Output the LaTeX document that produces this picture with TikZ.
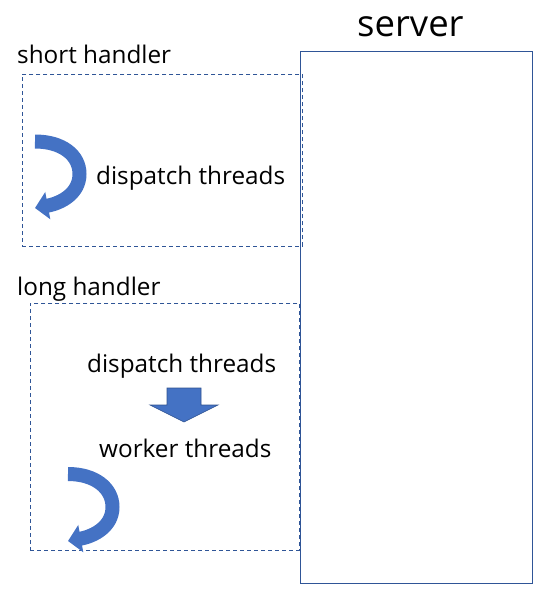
\documentclass[tikz,border=0pt]{standalone}
\usepackage{fontspec}
\setmainfont{Open Sans}
\usetikzlibrary{arrows.meta}
\definecolor{boxblue}{HTML}{2F5597}
\definecolor{fillblue}{HTML}{4472C4}
\definecolor{edgeblue}{HTML}{2F528F}
\tikzset{
  lbl/.style={anchor=base west, inner sep=0pt, font=\fontsize{24.3}{29}\selectfont},
  handlerbox/.style={draw=boxblue, dash pattern=on 4pt off 3pt, line width=0.8pt},
  curvearrow/.style={draw=fillblue, line width=14pt, -{Triangle[width=27pt,length=13pt]}},
}
\begin{document}
\begin{tikzpicture}[x=1pt,y=-1pt]
\useasboundingbox (0,0) rectangle (553,591);
% server
\node[draw=boxblue, line width=0.9pt, minimum width=232pt, minimum height=532pt, inner sep=0pt, anchor=north west] (server) at (300,51) {};
\node[anchor=base west, inner sep=0pt, font=\fontsize{36.5}{44}\selectfont] (servertxt) at (357,36.5) {server};
% short handler
\node[lbl] (shortlbl) at (17,64) {short handler};
\node[handlerbox, minimum width=280pt, minimum height=172pt, inner sep=0pt, anchor=north west] (shortbox) at (22,74) {};
\node[lbl] (disp1) at (96,184) {dispatch threads};
\coordinate (a1s) at (35,141.5);
\coordinate (a1e) at (35,208);
\draw[curvearrow] (a1s) .. controls (62,141.5) and (79.5,155) .. (79.5,174) .. controls (79.5,193) and (62,203) .. (a1e);
% long handler
\node[lbl] (longlbl) at (17,295.5) {long handler};
\node[handlerbox, minimum width=269pt, minimum height=247pt, inner sep=0pt, anchor=north west] (longbox) at (30,303) {};
\node[lbl] (disp2) at (87,372.5) {dispatch threads};
\node[lbl] (worker) at (99,457.5) {worker threads};
\draw[fill=fillblue, draw=edgeblue, line width=0.6pt] (167,388) -- (201,388) -- (201,405) -- (218,405) -- (184,422) -- (150,405) -- (167,405) -- cycle;
\coordinate (a2s) at (68,474);
\coordinate (a2e) at (68,541);
\draw[curvearrow] (a2s) .. controls (95,474) and (112.5,488) .. (112.5,507) .. controls (112.5,526) and (95,536) .. (a2e);
\end{tikzpicture}
\end{document}
